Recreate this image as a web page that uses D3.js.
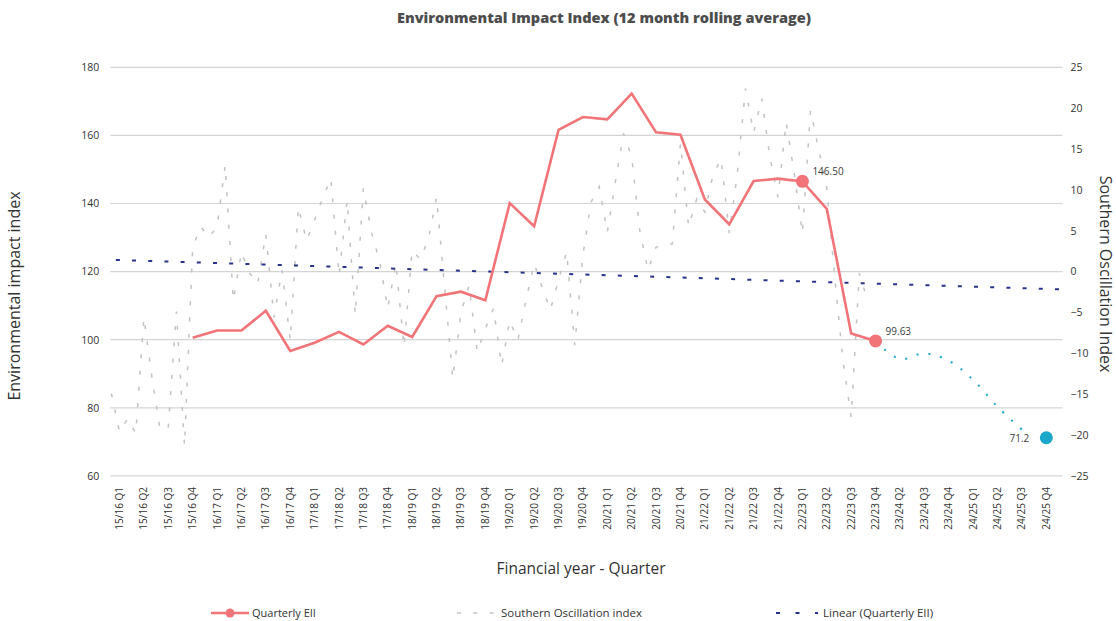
<!DOCTYPE html>
<html>
<head>
<meta charset="utf-8">
<script src="https://cdn.jsdelivr.net/npm/d3@7"></script>
<style>
	body { margin: 0; background: #fff; }
	text { font-family: "Open Sans", sans-serif; }
</style>
</head>
<body>
<svg id="chart"></svg>
<script>
// categories (financial year - quarter)
var quarters = [
	"15/16 Q1", "15/16 Q2", "15/16 Q3", "15/16 Q4",
	"16/17 Q1", "16/17 Q2", "16/17 Q3", "16/17 Q4",
	"17/18 Q1", "17/18 Q2", "17/18 Q3", "17/18 Q4",
	"18/19 Q1", "18/19 Q2", "18/19 Q3", "18/19 Q4",
	"19/20 Q1", "19/20 Q2", "19/20 Q3", "19/20 Q4",
	"20/21 Q1", "20/21 Q2", "20/21 Q3", "20/21 Q4",
	"21/22 Q1", "21/22 Q2", "21/22 Q3", "21/22 Q4",
	"22/23 Q1", "22/23 Q2", "22/23 Q3", "22/23 Q4",
	"23/24 Q2", "23/24 Q3", "23/24 Q4",
	"24/25 Q1", "24/25 Q2", "24/25 Q3", "24/25 Q4"
];

// quarterly EII (left axis), null where no value
var quarterlyEII = [
	null, null, null, 100.6,
	102.7, 102.7, 108.5, 96.7,
	99.1, 102.3, 98.6, 104.1,
	100.8, 112.8, 114.1, 111.6,
	140.1, 133.3, 161.6, 165.4,
	164.7, 172.3, 160.9, 160.2,
	141.2, 133.9, 146.6, 147.3,
	146.50, 138.4, 101.8, 99.63,
	null, null, null,
	null, null, null, null
];

// forecast (dotted), from 22/23 Q4 on
var forecastQuarters = ["22/23 Q4", "23/24 Q2", "23/24 Q3", "23/24 Q4", "24/25 Q1", "24/25 Q2", "24/25 Q3"];
var forecastValues = [99.63, 94.3, 96.0, 93.8, 88.2, 80.3, 73.6];
var forecastEnd = { quarter: "24/25 Q4", value: 71.2 };

// labelled points
var labelled = [
	{ quarter: "22/23 Q1", value: 146.50, text: "146.50" },
	{ quarter: "22/23 Q4", value: 99.63, text: "99.63" }
];

// linear trend of quarterly EII at first and last category
var trendEnds = [123.4, 114.9];

// Southern Oscillation index, monthly (right axis)
var soi = [
	-14.9, -19.6, -18.0, -19.8, -5.6, -13.0, -19.4, -19.0, -4.9, -21.3,
	3.0, 5.5, 4.2, 5.5, 13.0, -3.5, 2.4, -0.2, -1.5, 4.6,
	-5.6, 0.2, -8.4, 7.9, 3.8, 6.3, 9.0, 11.4, -0.5, 8.7,
	-5.3, 10.2, 4.8, 1.2, -4.5, 1.0, -9.2, 2.6, 1.5, 4.0,
	9.1, -2.0, -13.1, -5.0, -1.7, -9.8, -7.0, -4.5, -11.5, -6.0,
	-8.4, -3.5, 1.0, -2.0, -4.7, -1.0, 2.4, -9.0, 2.0, 8.5,
	10.4, 4.8, 11.0, 16.9, 14.0, 5.0, 0.2, 3.0, 3.2, 3.4,
	15.7, 5.5, 8.9, 7.3, 11.8, 13.8, 4.7, 12.0, 22.4, 17.0,
	21.2, 14.0, 9.1, 18.3, 12.0, 4.7, 19.7, 15.0, 10.2, -1.0,
	-11.0, -17.8, -0.2, -3.5
];
var monthsOnAxis = 117;

var leftTicks = [60, 80, 100, 120, 140, 160, 180];
var rightTicks = [-25, -20, -15, -10, -5, 0, 5, 10, 15, 20, 25];

var width = 1116, height = 621;
var margin = { top: 67.3, right: 57.5, bottom: 145.1, left: 107.3 };

var svg = d3.select("#chart").attr("width", width).attr("height", height);

var x = d3.scaleBand().domain(quarters).range([margin.left, width - margin.right]);
var cx = function (q) { return x(q) + x.bandwidth() / 2; };
var xMonth = d3.scaleLinear().domain([-0.5, monthsOnAxis - 0.5]).range([margin.left, width - margin.right]);
var xIndex = d3.scaleLinear().domain([0, quarters.length - 1]).range([cx(quarters[0]), cx(quarters[quarters.length - 1])]);

var yL = d3.scaleLinear().domain([60, 180]).range([height - margin.bottom, margin.top]);
var yR = d3.scaleLinear().domain([-25, 25]).range([height - margin.bottom, margin.top]);

// gridlines
svg.append("g")
	.selectAll("line")
	.data(leftTicks)
	.enter()
	.append("line")
	.attr("x1", margin.left + 3)
	.attr("x2", width - margin.right + 4)
	.attr("y1", d => yL(d))
	.attr("y2", d => yL(d))
	.attr("stroke", "#d4d4d4")
	.attr("stroke-width", 1.2);

// left axis
svg.append("g")
	.attr("transform", "translate(" + (margin.left - 8) + ",0)")
	.call(d3.axisLeft(yL).tickValues(leftTicks).tickSize(0).tickPadding(0))
	.call(g => g.select(".domain").remove())
	.selectAll("text")
	.attr("font-size", "10.5px")
	.attr("fill", "#333")
	.attr("font-family", "Open Sans");

// right axis
svg.append("g")
	.attr("transform", "translate(" + (width - margin.right + 12) + ",0)")
	.call(d3.axisRight(yR).tickValues(rightTicks).tickSize(0).tickPadding(0))
	.call(g => g.select(".domain").remove())
	.selectAll("text")
	.attr("font-size", "10.5px")
	.attr("fill", "#333")
	.attr("font-family", "Open Sans");

// x labels
svg.append("g")
	.selectAll("text")
	.data(quarters)
	.enter()
	.append("text")
	.attr("transform", d => "translate(" + cx(d) + "," + 487 + ") rotate(-90)")
	.attr("text-anchor", "end")
	.attr("dy", "0.35em")
	.attr("font-size", "10px")
	.attr("fill", "#333")
	.text(d => d);

// southern oscillation index
var soiLine = d3.line()
	.x((d, i) => xMonth(i))
	.y(d => yR(d));

svg.append("path")
	.datum(soi)
	.attr("d", soiLine)
	.attr("fill", "none")
	.attr("stroke", "#c2c2c2")
	.attr("stroke-width", 1.5)
	.attr("stroke-dasharray", "4,12.3");

// linear trend
var slope = (trendEnds[1] - trendEnds[0]) / (quarters.length - 1);
var trendPts = [-0.15, quarters.length - 1 + 0.86].map(i => [xIndex(i), yL(trendEnds[0] + slope * i)]);
svg.append("path")
	.datum(trendPts)
	.attr("d", d3.line())
	.attr("fill", "none")
	.attr("stroke", "#27338a")
	.attr("stroke-width", 2)
	.attr("stroke-dasharray", "4,12.2");

// forecast
var fcLine = d3.line()
	.x((d, i) => cx(forecastQuarters[i]))
	.y(d => yL(d))
	.curve(d3.curveCatmullRom.alpha(0.5));

svg.append("path")
	.datum(forecastValues)
	.attr("d", fcLine)
	.attr("fill", "none")
	.attr("stroke", "#1aa7c9")
	.attr("stroke-width", 2)
	.attr("stroke-dasharray", "2,10");

svg.append("circle")
	.attr("cx", cx(forecastEnd.quarter))
	.attr("cy", yL(forecastEnd.value))
	.attr("r", 6.5)
	.attr("fill", "#1aa7c9");

svg.append("text")
	.attr("x", cx(forecastEnd.quarter) - 17)
	.attr("y", yL(forecastEnd.value) + 4)
	.attr("text-anchor", "end")
	.attr("font-size", "10px")
	.attr("fill", "#404040")
	.text(forecastEnd.value);

// quarterly EII
var eiiLine = d3.line()
	.defined(d => d != null)
	.x((d, i) => cx(quarters[i]))
	.y(d => yL(d));

svg.append("path")
	.datum(quarterlyEII)
	.attr("d", eiiLine)
	.attr("fill", "none")
	.attr("stroke", "#f07478")
	.attr("stroke-width", 2.6)
	.attr("stroke-linejoin", "miter");

svg.selectAll("circle.lab")
	.data(labelled)
	.enter()
	.append("circle")
	.attr("class", "lab")
	.attr("cx", d => cx(d.quarter))
	.attr("cy", d => yL(d.value))
	.attr("r", 6.5)
	.attr("fill", "#f07478");

svg.selectAll("text.lab")
	.data(labelled)
	.enter()
	.append("text")
	.attr("class", "lab")
	.attr("x", d => cx(d.quarter) + 10)
	.attr("y", d => yL(d.value) - 6)
	.attr("font-size", "10px")
	.attr("fill", "#404040")
	.text(d => d.text);

// titles
svg.append("text")
	.attr("x", 604)
	.attr("y", 23)
	.attr("text-anchor", "middle")
	.attr("font-size", "14.5px")
	.attr("font-weight", 800)
	.attr("fill", "#4d4d4d")
	.text("Environmental Impact Index (12 month rolling average)");

svg.append("text")
	.attr("transform", "translate(20,296) rotate(-90)")
	.attr("text-anchor", "middle")
	.attr("font-size", "16px")
	.attr("fill", "#333")
	.text("Environmental impact index");

svg.append("text")
	.attr("transform", "translate(1100,274) rotate(90)")
	.attr("text-anchor", "middle")
	.attr("font-size", "16px")
	.attr("fill", "#333")
	.text("Southern Oscillation Index");

svg.append("text")
	.attr("x", 581)
	.attr("y", 574)
	.attr("text-anchor", "middle")
	.attr("font-size", "15.5px")
	.attr("fill", "#333")
	.text("Financial year - Quarter");

// legend
var legend = svg.append("g").attr("transform", "translate(0,613)");
legend.append("line").attr("x1", 211).attr("x2", 249).attr("stroke", "#f07478").attr("stroke-width", 2.6);
legend.append("circle").attr("cx", 230).attr("r", 4.5).attr("fill", "#f07478");
legend.append("text").attr("x", 252).attr("y", 4).attr("font-size", "11px").attr("fill", "#333").text("Quarterly EII");

legend.append("line").attr("x1", 457).attr("x2", 496).attr("stroke", "#c2c2c2").attr("stroke-width", 1.5).attr("stroke-dasharray", "4,12.3");
legend.append("text").attr("x", 501).attr("y", 4).attr("font-size", "11.5px").attr("fill", "#333").text("Southern Oscillation index");

legend.append("line").attr("x1", 776).attr("x2", 818).attr("stroke", "#27338a").attr("stroke-width", 2).attr("stroke-dasharray", "4,15.5");
legend.append("text").attr("x", 823).attr("y", 4).attr("font-size", "11.5px").attr("fill", "#333").text("Linear (Quarterly EII)");
</script>
</body>
</html>
